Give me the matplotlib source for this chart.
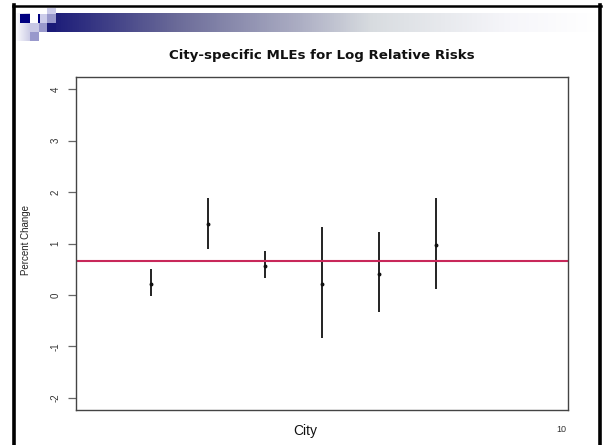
import numpy as np
import matplotlib
matplotlib.use("Agg")
import matplotlib.pyplot as plt
from matplotlib.patches import Rectangle
from matplotlib.lines import Line2D
from matplotlib.colors import LinearSegmentedColormap

plt.rcParams['font.family'] = ['Liberation Sans', 'DejaVu Sans']

# ---- data ----
cities = [1, 2, 3, 4, 5, 6]
mle = [0.22, 1.37, 0.57, 0.22, 0.41, 0.98]
lower = [-0.02, 0.90, 0.33, -0.83, -0.34, 0.12]
upper = [0.51, 1.89, 0.86, 1.32, 1.23, 1.88]
pooled = 0.66
y_ticks = [-2, -1, 0, 1, 2, 3, 4]
title = "City-specific MLEs for Log Relative Risks"
xlabel = "City"
ylabel = "Percent Change"
page = "10"

W, H = 604, 445
fig = plt.figure(figsize=(W / 100, H / 100), dpi=100)
fig.patch.set_facecolor('white')

def fx(px):
    return px / W

def fy(py):
    return 1 - py / H

# ---- slide decoration ----
# gradient banner
bx0, bx1, by0, by1 = 48, 598, 13, 32
axb = fig.add_axes([fx(bx0), fy(by1), fx(bx1 - bx0), (by1 - by0) / H])
banner_cmap = LinearSegmentedColormap.from_list(
    'banner', [(0.0, '#1a1a78'), (0.23, '#6a6a98'), (0.47, '#b0b2c6'),
               (0.59, '#d8dce0'), (0.84, '#f6f6fa'), (1.0, '#ffffff')])
axb.imshow(np.linspace(0, 1, 500)[None, :], aspect='auto', cmap=banner_cmap,
           extent=[0, 1, 0, 1])
axb.axis('off')

# left fade block
axf = fig.add_axes([fx(15), fy(41), fx(15), 28 / H])
t2 = np.linspace(0, 1, 50)
lav = np.array([0xcc, 0xcc, 0xe6]) / 255.0
g2 = np.ones((1, 50, 3)) * (1 - t2[None, :, None]) + lav[None, None, :] * t2[None, :, None]
axf.imshow(g2, aspect='auto', extent=[0, 1, 0, 1])
axf.axis('off')

def sq(x0, y0, x1, y1, color):
    fig.patches.append(Rectangle((fx(x0), fy(y1)), fx(x1 - x0), (y1 - y0) / H,
                                 transform=fig.transFigure, facecolor=color,
                                 edgecolor='none', zorder=5))

sq(20, 14, 30, 23, '#000080')
sq(30, 23, 39, 32, '#c8c8e4')
sq(30, 32, 39, 41, '#9999cc')
sq(38, 14, 40, 23, '#000080')
sq(40, 14, 47, 23, '#ccccea')
sq(39, 23, 48, 32, '#9999cc')
sq(47, 8, 56, 14, '#ccccea')
sq(47, 14, 56, 23, '#9999cc')
sq(47, 23, 56, 32, '#1a1a78')

# black slide frame
fig.add_artist(Line2D([fx(14), fx(14)], [fy(5), 0], transform=fig.transFigure,
                      color='black', lw=2.6, zorder=6))
fig.add_artist(Line2D([fx(13), fx(601)], [fy(6), fy(6)], transform=fig.transFigure,
                      color='black', lw=1.8, zorder=6))
fig.add_artist(Line2D([fx(600), fx(600)], [fy(5), 0], transform=fig.transFigure,
                      color='black', lw=2.6, zorder=6))

# ---- main plot ----
L, T, R, B = 76, 77, 568, 410
ax = fig.add_axes([fx(L), fy(B), fx(R - L), (B - T) / H])
ax.vlines(cities, lower, upper, color='#111111', lw=1.3)
ax.plot(cities, mle, 'o', ms=1.8, color='#111111')
ax.axhline(pooled, color='#c8285a', lw=1.5)

ax.set_xlim(-0.32, 8.32)
ax.set_ylim(-2.24, 4.24)
ax.set_xticks([])
ax.set_yticks(y_ticks)
ax.set_yticklabels([str(v) for v in y_ticks], rotation=90, va='center',
                   fontsize=7, color='#333333')
ax.tick_params(axis='y', length=6, width=0.9, color='#666666', pad=5)
for s in ax.spines.values():
    s.set_color('#444444')
    s.set_linewidth(1.0)

fig.text(fx(26), fy(240), ylabel, rotation=90, ha='center', va='center',
         fontsize=7, color='#222222')
fig.text(fx(321.5), fy(55), title, ha='center', va='center', fontsize=9.6,
         fontweight='bold', color='#111111', family=['DejaVu Sans'])
fig.text(fx(305), fy(431), xlabel, ha='center', va='center', fontsize=10,
         color='#111111')
fig.text(fx(561), fy(430), page, ha='center', va='center', fontsize=6.5,
         color='#333333')

fig.savefig('out.png', dpi=100)
